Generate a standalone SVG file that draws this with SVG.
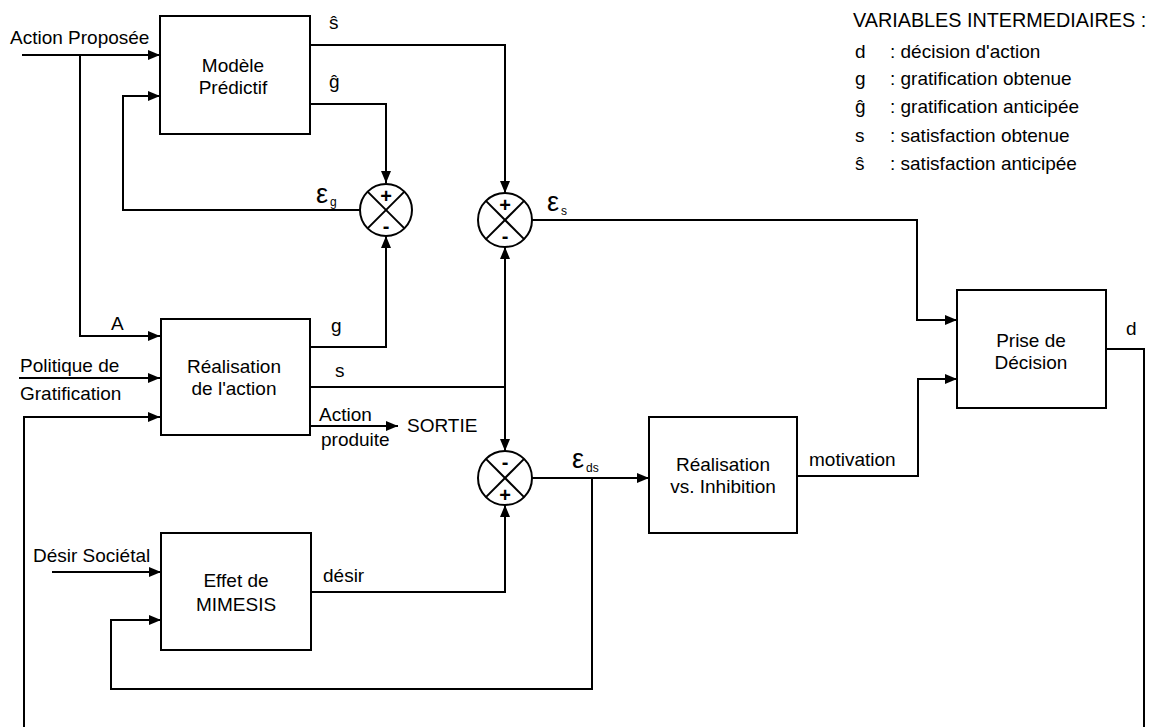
<svg xmlns="http://www.w3.org/2000/svg" width="1153" height="727" viewBox="0 0 1153 727">
<style>
.box{fill:#fff;stroke:#000;stroke-width:2}
.ln{fill:none;stroke:#000;stroke-width:2}
.sum{fill:#fff;stroke:#000;stroke-width:2}
.x{stroke:#000;stroke-width:2}
text{font-family:"Liberation Sans",Arial,sans-serif;font-size:19px;fill:#000}
.c{text-anchor:middle}
.sign{font-size:20px;font-weight:bold;text-anchor:middle}
.eps{font-size:27px}
.sub{font-size:12px}
.hdr{font-size:19.8px}
</style>
<defs>
<marker id="ah" markerUnits="userSpaceOnUse" markerWidth="12" markerHeight="10" refX="12" refY="5" orient="auto">
<path d="M0,0 L12,5 L0,10 z" fill="#000"/>
</marker>
</defs>
<rect width="1153" height="727" fill="#fff"/>

<g id="connectors">
<path class="ln" d="M22,55 H160" marker-end="url(#ah)"/>
<path class="ln" d="M80,55 V336 H160" marker-end="url(#ah)"/>
<path class="ln" d="M360,210 H123 V96 H160" marker-end="url(#ah)"/>
<path class="ln" d="M310,45 H505 V193" marker-end="url(#ah)"/>
<path class="ln" d="M310,104 H386 V183" marker-end="url(#ah)"/>
<path class="ln" d="M310,347 H386 V236" marker-end="url(#ah)"/>
<path class="ln" d="M310,387 H505"/>
<path class="ln" d="M505,387 V247" marker-end="url(#ah)"/>
<path class="ln" d="M505,387 V451" marker-end="url(#ah)"/>
<path class="ln" d="M310,426 H398" marker-end="url(#ah)"/>
<path class="ln" d="M19,378 H160" marker-end="url(#ah)"/>
<path class="ln" d="M1106,349 H1144 V745 H24 V417 H160" marker-end="url(#ah)"/>
<path class="ln" d="M532,220 H917 V320 H957" marker-end="url(#ah)"/>
<path class="ln" d="M532,478 H649" marker-end="url(#ah)"/>
<path class="ln" d="M592,478 V689 H111 V620 H161" marker-end="url(#ah)"/>
<path class="ln" d="M797,476 H918 V379 H957" marker-end="url(#ah)"/>
<path class="ln" d="M52,572 H161" marker-end="url(#ah)"/>
<path class="ln" d="M311,592 H505 V505" marker-end="url(#ah)"/>
</g>

<g id="modele-predictif">
<rect class="box" x="160" y="16" width="150" height="118"/>
<text class="c" x="233" y="72">Modèle</text>
<text class="c" x="233" y="94">Prédictif</text>
</g>

<g id="realisation-action">
<rect class="box" x="161" y="319" width="149" height="116"/>
<text class="c" x="234" y="373">Réalisation</text>
<text class="c" x="234" y="395">de l'action</text>
</g>

<g id="effet-mimesis">
<rect class="box" x="161" y="533" width="150" height="117"/>
<text class="c" x="236" y="587">Effet de</text>
<text class="c" x="236" y="611">MIMESIS</text>
</g>

<g id="realisation-inhibition">
<rect class="box" x="649" y="417" width="148" height="116"/>
<text class="c" x="723" y="471">Réalisation</text>
<text class="c" x="723" y="493">vs. Inhibition</text>
</g>

<g id="prise-decision">
<rect class="box" x="957" y="290" width="149" height="118"/>
<text class="c" x="1031" y="347">Prise de</text>
<text class="c" x="1031" y="369">Décision</text>
</g>

<g id="sum-eg">
<circle class="sum" cx="386" cy="210" r="26"/>
<line class="x" x1="367.6" y1="191.6" x2="404.4" y2="228.4"/>
<line class="x" x1="404.4" y1="191.6" x2="367.6" y2="228.4"/>
<text class="sign" x="386" y="203">+</text>
<text class="sign" x="386" y="233">-</text>
</g>

<g id="sum-es">
<circle class="sum" cx="505" cy="220" r="27"/>
<line class="x" x1="485.9" y1="200.9" x2="524.1" y2="239.1"/>
<line class="x" x1="524.1" y1="200.9" x2="485.9" y2="239.1"/>
<text class="sign" x="505" y="212">+</text>
<text class="sign" x="505" y="243">-</text>
</g>

<g id="sum-eds">
<circle class="sum" cx="505" cy="478" r="27"/>
<line class="x" x1="485.9" y1="458.9" x2="524.1" y2="497.1"/>
<line class="x" x1="524.1" y1="458.9" x2="485.9" y2="497.1"/>
<text class="sign" x="505" y="469">-</text>
<text class="sign" x="505" y="502">+</text>
</g>

<g id="labels">
<text x="10" y="44">Action Proposée</text>
<text x="329" y="29">ŝ</text>
<text x="329" y="88">ĝ</text>
<text class="eps" x="316" y="203">ε</text><text class="sub" x="330" y="206">g</text>
<text class="eps" x="547" y="211">ε</text><text class="sub" x="561" y="215">s</text>
<text x="111" y="330">A</text>
<text x="20" y="372">Politique de</text>
<text x="20" y="400">Gratification</text>
<text x="331" y="332">g</text>
<text x="335" y="377">s</text>
<text x="319" y="421">Action</text>
<text x="321" y="446">produite</text>
<text x="407" y="432">SORTIE</text>
<text class="eps" x="572" y="468">ε</text><text class="sub" x="586" y="472">ds</text>
<text x="809" y="466">motivation</text>
<text x="1126" y="335">d</text>
<text x="33" y="562">Désir Sociétal</text>
<text x="323" y="582">désir</text>
</g>

<g id="legend">
<text class="hdr" x="853" y="27">VARIABLES INTERMEDIAIRES :</text>
<text x="855" y="58">d</text><text x="890" y="58">: décision d'action</text>
<text x="855" y="85">g</text><text x="890" y="85">: gratification obtenue</text>
<text x="855" y="113">ĝ</text><text x="890" y="113">: gratification anticipée</text>
<text x="855" y="142">s</text><text x="890" y="142">: satisfaction obtenue</text>
<text x="855" y="170">ŝ</text><text x="890" y="170">: satisfaction anticipée</text>
</g>
</svg>
